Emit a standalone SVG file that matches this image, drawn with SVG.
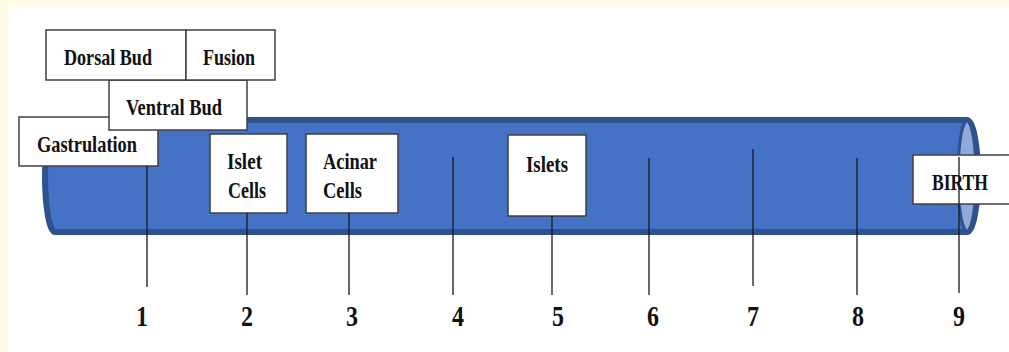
<svg xmlns="http://www.w3.org/2000/svg" width="1009" height="352" viewBox="0 0 1009 352">
  <style>
    .box { fill: #ffffff; stroke: #404040; stroke-width: 1.5; }
    .lbl { font-family: "Liberation Serif", "Times New Roman", serif; font-weight: bold; font-size: 23px; fill: #111111; text-anchor: middle; }
    .num { font-family: "Liberation Serif", "Times New Roman", serif; font-weight: bold; font-size: 29px; fill: #111111; text-anchor: middle; }
    .tick { stroke: #1a1a1a; stroke-width: 1.3; fill: none; }
  </style>
  <rect x="0" y="0" width="1009" height="352" fill="#fffbe6"/>
  <rect x="8" y="7" width="1001" height="345" fill="#ffffff"/>

  <g id="tube">
    <path d="M 967 120 L 55 120 A 10 56 0 0 0 55 232 L 967 232 A 11 56 0 0 0 967 120 Z" fill="#4472c4" stroke="#2f528f" stroke-width="6"/>
    <ellipse cx="967" cy="176" rx="9" ry="55" fill="#8eaadb" stroke="#2f528f" stroke-width="3"/>
  </g>

  <g id="gastrulation">
    <rect class="box" x="19" y="117" width="139" height="49"/>
    <text class="lbl" x="87" y="152" textLength="100" lengthAdjust="spacingAndGlyphs">Gastrulation</text>
  </g>
  <g id="ventral-bud">
    <rect class="box" x="109" y="80" width="138" height="50"/>
    <text class="lbl" x="174" y="115" textLength="96" lengthAdjust="spacingAndGlyphs">Ventral Bud</text>
  </g>
  <g id="dorsal-bud">
    <rect class="box" x="46" y="30" width="140" height="50"/>
    <text class="lbl" x="108" y="65" textLength="88" lengthAdjust="spacingAndGlyphs">Dorsal Bud</text>
  </g>
  <g id="fusion">
    <rect class="box" x="186" y="30" width="89" height="50"/>
    <text class="lbl" x="229" y="65" textLength="52" lengthAdjust="spacingAndGlyphs">Fusion</text>
  </g>
  <g id="islet-cells">
    <rect class="box" x="210" y="134" width="77" height="79"/>
    <text class="lbl" x="244.5" y="169" textLength="35" lengthAdjust="spacingAndGlyphs">Islet</text>
    <text class="lbl" x="247" y="198" textLength="38" lengthAdjust="spacingAndGlyphs">Cells</text>
  </g>
  <g id="acinar-cells">
    <rect class="box" x="306" y="134" width="92" height="79"/>
    <text class="lbl" x="350" y="169" textLength="54" lengthAdjust="spacingAndGlyphs">Acinar</text>
    <text class="lbl" x="342.5" y="198" textLength="39" lengthAdjust="spacingAndGlyphs">Cells</text>
  </g>
  <g id="islets">
    <rect class="box" x="508" y="135" width="78" height="81"/>
    <text class="lbl" x="547" y="172" textLength="42" lengthAdjust="spacingAndGlyphs">Islets</text>
  </g>
  <g id="birth">
    <rect class="box" x="913" y="155" width="110" height="49"/>
    <text class="lbl" x="960" y="190" textLength="56" lengthAdjust="spacingAndGlyphs">BIRTH</text>
  </g>

  <g id="connectors">
    <line class="tick" x1="147" y1="166" x2="147" y2="287"/>
    <line class="tick" x1="247" y1="213" x2="247" y2="295"/>
    <line class="tick" x1="349" y1="213" x2="349" y2="295"/>
    <line class="tick" x1="453" y1="157" x2="453" y2="295"/>
    <line class="tick" x1="552" y1="216" x2="552" y2="295"/>
    <line class="tick" x1="649" y1="158" x2="649" y2="295"/>
    <line class="tick" x1="753" y1="149" x2="753" y2="286"/>
    <line class="tick" x1="857" y1="158" x2="857" y2="295"/>
    <line class="tick" x1="959" y1="157" x2="959" y2="293"/>
  </g>

  <g id="numbers">
    <text class="num" x="142" y="326" textLength="12" lengthAdjust="spacingAndGlyphs">1</text>
    <text class="num" x="247" y="326" textLength="12" lengthAdjust="spacingAndGlyphs">2</text>
    <text class="num" x="352" y="326" textLength="12" lengthAdjust="spacingAndGlyphs">3</text>
    <text class="num" x="458" y="326" textLength="12" lengthAdjust="spacingAndGlyphs">4</text>
    <text class="num" x="558" y="326" textLength="12" lengthAdjust="spacingAndGlyphs">5</text>
    <text class="num" x="653" y="326" textLength="12" lengthAdjust="spacingAndGlyphs">6</text>
    <text class="num" x="753" y="326" textLength="12" lengthAdjust="spacingAndGlyphs">7</text>
    <text class="num" x="858" y="326" textLength="12" lengthAdjust="spacingAndGlyphs">8</text>
    <text class="num" x="959" y="326" textLength="12" lengthAdjust="spacingAndGlyphs">9</text>
  </g>
</svg>
